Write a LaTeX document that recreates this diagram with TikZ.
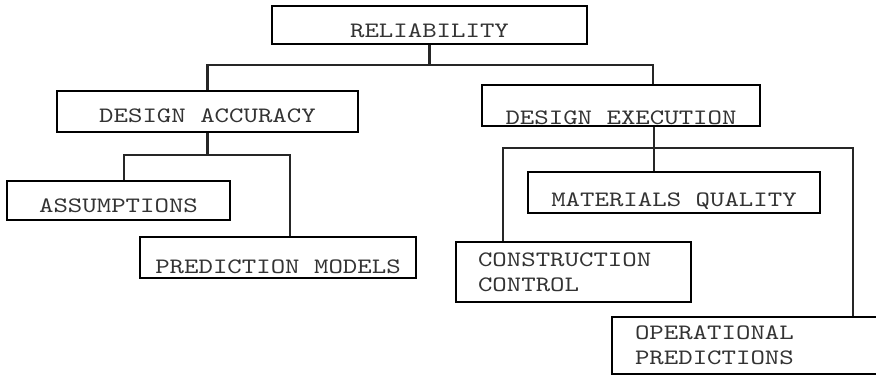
\documentclass[tikz,border=0pt]{standalone}
\usepackage{fontspec}
\newfontfamily\typefont[Extension=.otf, FakeStretch=1.25]{lmmono10-regular}

\tikzset{
  box/.style={draw, line width=1.3pt, inner sep=0pt, text=black!80,
    font=\typefont\fontsize{11}{12.5}\selectfont},
  oneline/.style={text height=#1, text depth=0pt},
  link/.style={line width=1.2pt, black!85},
}

\begin{document}
\begin{tikzpicture}[x=0.5pt, y=-0.5pt]
    \useasboundingbox (0,0) rectangle (876,377);
    \clip (0,0) rectangle (876,377);

    % Top level
    \node[box, minimum width=157.5pt, minimum height=19pt, oneline=12.5pt] (rel) at (429.5,25) {RELIABILITY};

    % Second level
    \node[box, minimum width=150.5pt, minimum height=20.5pt, oneline=11pt] (da) at (207.5,111.5) {DESIGN ACCURACY};
    \node[box, minimum width=139pt, minimum height=20.5pt, oneline=18.5pt] (de) at (621,105.5) {DESIGN EXECUTION};

    % Under design accuracy
    \node[box, minimum width=111.5pt, minimum height=19.5pt, oneline=11.5pt] (as) at (118.5,200.5) {ASSUMPTIONS};
    \node[box, minimum width=138pt, minimum height=20.5pt, oneline=15.5pt] (pm) at (278,257.5) {PREDICTION MODELS};

    % Under design execution
    \node[box, minimum width=146pt, minimum height=20.5pt, oneline=14pt] (mq) at (674,192.5) {MATERIALS QUALITY};
    \node[box, minimum width=117.5pt, minimum height=30pt, text width=95.5pt, align=left] (cc) at (573.5,272) {CONSTRUCTION\\CONTROL};
    \node[box, minimum width=144pt, minimum height=28.5pt, text width=121pt, align=left] (op) at (756,345.5) {OPERATIONAL\\PREDICTIONS};

    % Connectors
    \coordinate (top) at (rel.south |- 0,65);
    \draw[link] (rel.south) -- (top);
    \draw[link] (da.north) |- (top) -| (de.north -| 653,0);

    \coordinate (left) at (da.south |- 0,155);
    \draw[link] (da.south) -- (left);
    \draw[link] (as.north -| 124,0) |- (left) -| (pm.north -| 290,0);

    \coordinate (right) at (654,148);
    \draw[link] (de.south -| right) -- (mq.north -| right);
    \draw[link] (cc.north -| 503,0) |- (right) -| (op.north -| 853,0);
\end{tikzpicture}
\end{document}
